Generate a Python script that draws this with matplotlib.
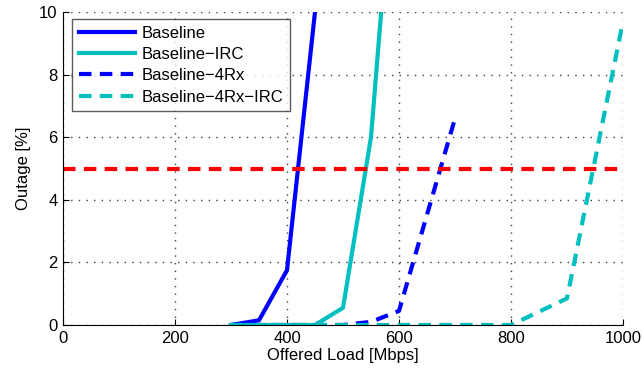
import matplotlib
matplotlib.use("Agg")
import matplotlib.pyplot as plt

plt.rcParams['font.family'] = ['Liberation Sans', 'DejaVu Sans']

# Outage vs offered load for each receiver configuration
load_baseline = [300, 350, 400, 450]
outage_baseline = [0.0, 0.15, 1.75, 10.0]

load_irc = [300, 350, 400, 450, 500, 550, 600]
outage_irc = [0.0, 0.0, 0.0, 0.0, 0.55, 6.0, 17.0]

load_4rx = [300, 350, 400, 450, 500, 550, 600, 700]
outage_4rx = [0.0, 0.0, 0.0, 0.0, 0.0, 0.1, 0.45, 6.6]

load_4rx_irc = [300, 400, 500, 600, 700, 800, 900, 1000]
outage_4rx_irc = [0.0, 0.0, 0.0, 0.0, 0.0, 0.0, 0.85, 9.7]

outage_target = 5.0

x_ticks = [0, 200, 400, 600, 800, 1000]
y_ticks = [0, 2, 4, 6, 8, 10]

blue = (0, 0, 1)
teal = (0, 0.75, 0.75)
red = (1, 0, 0)

fs = 12

fig = plt.figure(figsize=(6.43, 3.78), dpi=100)
ax = fig.add_axes([63 / 643, 1 - 325 / 378, 560 / 643, 313 / 378])

lw = 3
dash = (0, (3, 2))
ax.plot(load_baseline, outage_baseline, color=blue, lw=lw, label='Baseline')
ax.plot(load_irc, outage_irc, color=teal, lw=lw, label='Baseline\u2212IRC')
ax.plot(load_4rx, outage_4rx, color=blue, lw=lw, ls=dash, label='Baseline\u22124Rx')
ax.plot(load_4rx_irc, outage_4rx_irc, color=teal, lw=lw, ls=dash,
        label='Baseline\u22124Rx\u2212IRC')
ax.axhline(outage_target, color=red, lw=lw, ls=dash)

ax.set_xlim(0, 1000)
ax.set_ylim(0, 10)
ax.set_xticks(x_ticks)
ax.set_yticks(y_ticks)
ax.tick_params(direction='in', length=4, labelsize=fs, colors='black', pad=4)
ax.grid(True, color='0.25', linestyle=(0, (1, 4.5)), linewidth=1.0)
ax.spines['top'].set_visible(False)
ax.spines['right'].set_visible(False)
ax.spines['left'].set_linewidth(0.8)
ax.spines['bottom'].set_linewidth(0.8)

ax.set_xlabel('Offered Load [Mbps]', fontsize=fs, labelpad=2)
ax.set_ylabel('Outage [%]', fontsize=fs, labelpad=6)

leg = ax.legend(loc='upper left', fontsize=fs, frameon=True, fancybox=False,
                edgecolor='0.2', handlelength=3.4, borderpad=0.4,
                labelspacing=0.38, handletextpad=0.4, borderaxespad=0,
                bbox_to_anchor=(0.016, 0.978))
leg.get_frame().set_linewidth(1.0)

fig.savefig('out.png', dpi=100)
